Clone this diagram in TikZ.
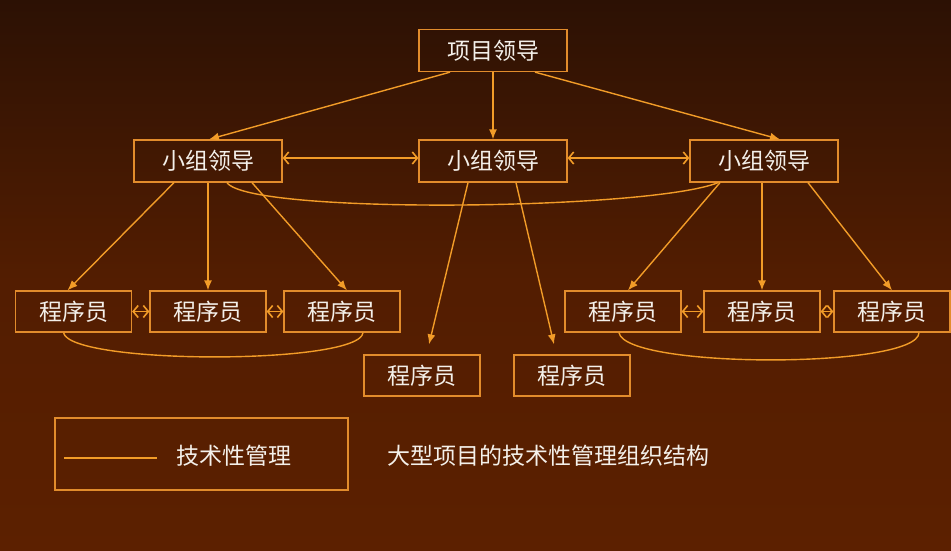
\documentclass[tikz,border=0pt]{standalone}
\usepackage{fontspec}
\setmainfont{Noto Sans CJK SC}
\usepackage{tikz}
\usetikzlibrary{arrows,arrows.meta}
\definecolor{bgtop}{RGB}{44,17,4}
\definecolor{bgbot}{RGB}{92,32,0}
\definecolor{boxline}{RGB}{226,140,44}
\definecolor{linkline}{RGB}{242,156,40}
\definecolor{txt}{RGB}{244,240,234}
\tikzstyle{box} = [draw=boxline, line width=1.3pt, inner sep=0pt, text=txt, font=\fontsize{23}{26}\selectfont]
\tikzstyle{leader} = [box, minimum width=148pt, minimum height=42pt]
\tikzstyle{coder} = [box, minimum width=116pt, minimum height=41pt]
\tikzstyle{link} = [draw=linkline, -{Latex[length=10pt,width=8pt]}, line width=1.4pt]
\tikzstyle{peer} = [draw=linkline, {Straight Barb[length=5pt,width=12pt,line width=1.6pt]}-{Straight Barb[length=5pt,width=12pt,line width=1.6pt]}, line width=1.4pt]
\tikzstyle{tech} = [draw=linkline, line width=1.4pt]

\begin{document}
\begin{tikzpicture}[x=1pt,y=-1pt]
	\shade[top color=bgtop, bottom color=bgbot, middle color=bgbot!80!bgtop] (0,0) rectangle (951,550);
	\useasboundingbox (0,0) rectangle (951,550);

	% ------------------- Leaders ------------------- %
	\node[leader] (top) at (493,50.5) {项目领导};
	\node[leader] (lA) at (208,161) {小组领导};
	\node[leader] (mB) at (493,161) {小组领导};
	\node[leader] (rC) at (764,161) {小组领导};

	% ------------------- Programmers ------------------- %
	\node[coder] (p1) at (73.5,311.5) {程序员};
	\node[coder] (p2) at (208,311.5) {程序员};
	\node[coder] (p3) at (342,311.5) {程序员};
	\node[coder] (p4) at (623,311.5) {程序员};
	\node[coder] (p5) at (762,311.5) {程序员};
	\node[coder] (p6) at (892,311.5) {程序员};
	\node[coder] (p7) at (422,375.5) {程序员};
	\node[coder] (p8) at (572,375.5) {程序员};

	% ------------------- Arrows from the project leader ------------------- %
	\draw[link] ([xshift=-43pt]top.south) -- ([xshift=1pt]lA.north);
	\draw[link] (top.south) -- (mB.north);
	\draw[link] ([xshift=42pt]top.south) -- ([xshift=16pt]rC.north);

	% ------------------- Between leaders ------------------- %
	\draw[peer] ([yshift=3pt]lA.east) -- ([yshift=3pt]mB.west);
	\draw[peer] ([yshift=3pt]mB.east) -- ([yshift=3pt]rC.west);

	% ------------------- Leaders to programmers ------------------- %
	\draw[link] ([xshift=-34pt]lA.south) -- ([xshift=-6pt]p1.north);
	\draw[link] (lA.south) -- (p2.north);
	\draw[link] ([xshift=44pt]lA.south) -- ([xshift=5pt]p3.north);
	\draw[link] ([xshift=-25pt]mB.south) -- ([xshift=7pt,yshift=10pt]p7.north);
	\draw[link] ([xshift=23pt]mB.south) -- ([xshift=-18pt,yshift=10pt]p8.north);
	\draw[link] ([xshift=-44pt]rC.south) -- ([xshift=5pt]p4.north);
	\draw[link] ([xshift=-2pt]rC.south) -- (p5.north);
	\draw[link] ([xshift=44pt]rC.south) -- (p6.north);

	% ------------------- Between programmers ------------------- %
	\draw[peer] (p1.east) -- (p2.west);
	\draw[peer] (p2.east) -- (p3.west);
	\draw[peer] (p4.east) -- (p5.west);
	\draw[peer] (p5.east) -- (p6.west);

	% ------------------- Technical management ------------------- %
	\draw[tech] ([xshift=19pt]lA.south) .. controls (250,215) and (650,210) .. ([xshift=-46pt]rC.south);
	\draw[tech] ([xshift=-10pt]p1.south) .. controls (70,365) and (360,365) .. ([xshift=21pt]p3.south);
	\draw[tech] ([xshift=-4pt]p4.south) .. controls (625,369) and (918,369) .. ([xshift=27pt]p6.south);

	% ------------------- Legend + caption ------------------- %
	\node[box, minimum width=293pt, minimum height=72pt] (legend) at (201.5,454) {};
	\draw[tech] ([xshift=10pt,yshift=-4pt]legend.west) -- ++(93,0);
	\node[text=txt, font=\fontsize{23}{26}\selectfont] (techname) at (234,456) {技术性管理};
	\node[text=txt, font=\fontsize{23}{26}\selectfont] (caption) at (548,456) {大型项目的技术性管理组织结构};
\end{tikzpicture}
\end{document}
